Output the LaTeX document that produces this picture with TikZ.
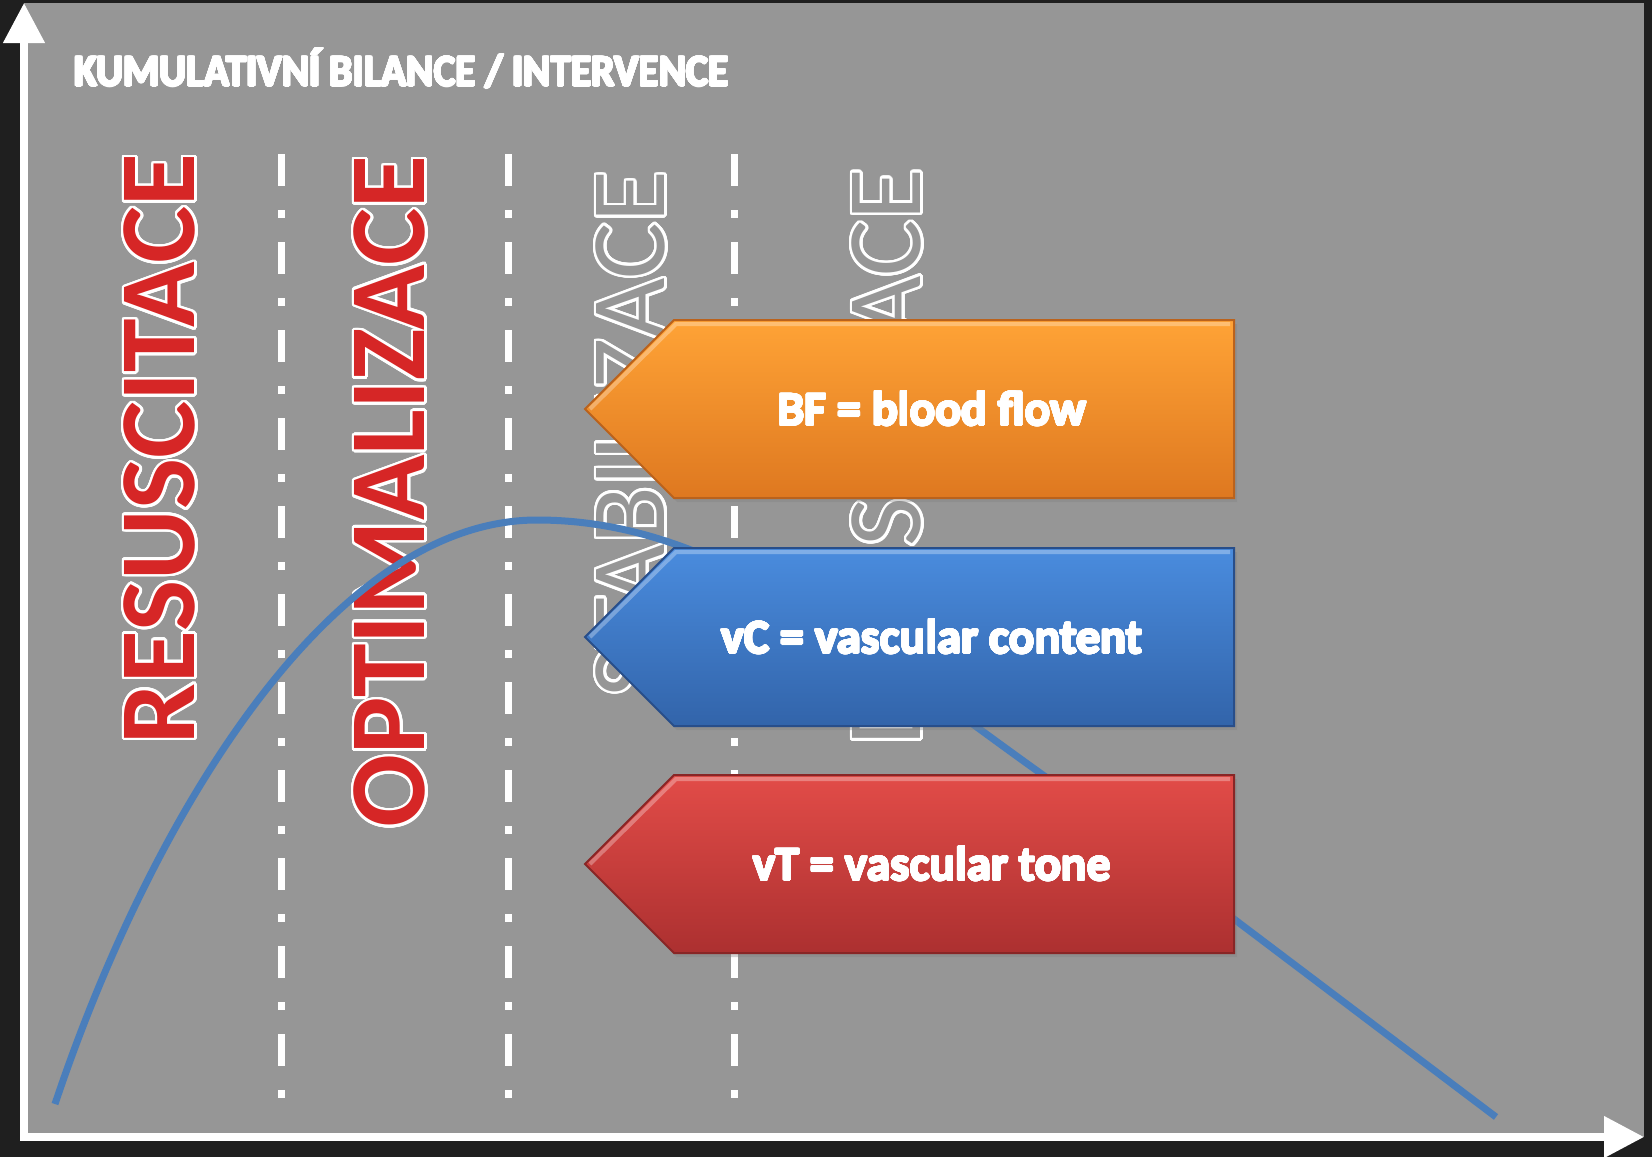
\documentclass[tikz,border=0pt]{standalone}
\usepackage{fontspec}
\setmainfont{Carlito}
\usepackage{contour}
\contournumber{32}
\usetikzlibrary{arrows.meta,shadows}

\definecolor{framegray}{RGB}{31,31,31}
\definecolor{panelgray}{RGB}{150,150,150}
\definecolor{flowblue}{RGB}{74,126,187}
\definecolor{phasered}{RGB}{214,38,38}
\definecolor{toporange}{RGB}{255,163,54}
\definecolor{botorange}{RGB}{222,120,32}
\definecolor{edgeorange}{RGB}{186,98,28}
\definecolor{topblue}{RGB}{74,140,222}
\definecolor{botblue}{RGB}{50,100,170}
\definecolor{edgeblue}{RGB}{40,78,138}
\definecolor{topred}{RGB}{226,76,72}
\definecolor{botred}{RGB}{172,48,48}
\definecolor{edgered}{RGB}{136,38,38}

\begin{document}
\begin{tikzpicture}[x=0.5pt,y=-0.5pt,>={Triangle[width=20pt,length=20pt]}]
  \tikzset{
    every node/.style={inner sep=0pt},
    phase/.style={rotate=90,font=\fontsize{53}{53}\selectfont},
    boldphase/.style={rotate=90,font=\bfseries\fontsize{54}{54}\selectfont},
    divider/.style={white,line width=3.5pt,dash pattern=on 16pt off 12pt on 4pt off 12pt},
    axis/.style={white,line width=3.75pt,line cap=rect,->},
    boxtext/.style={text=white,font=\bfseries\fontsize{24}{28}\selectfont}
  }
  \useasboundingbox (0,0) rectangle (1652,1157);
  \fill[framegray] (0,0) rectangle (1652,1157);
  \fill[panelgray] (24,3) rectangle (1644,1137);

  % phase borders
  \foreach \x in {281,508,734}
    \draw[divider] (\x,154) -- (\x,1098);

  \contourlength{1.3pt}
  \node[boldphase] (resus) at (161,449) {\contour{white}{\textcolor{phasered}{RESUSCITACE}}};
  \node[boldphase] (optim) at (391,492) {\contour{white}{\textcolor{phasered}{OPTIMALIZACE}}};
  \node[phase]     (stab)  at (632,434) {\contour{white}{\textcolor{panelgray}{STABILIZACE}}};
  \node[phase]     (deesk) at (888,457) {\contour{white}{\textcolor{panelgray}{DE-ESKALACE}}};

  \contourlength{0.5pt}
  \node[anchor=base west,text=white,font=\bfseries\fontsize{22.5}{24}\selectfont] (title) at (74,86)
    {\scalebox{0.92}[1]{\contour{white}{KUMULATIVNÍ BILANCE / INTERVENCE}}};

  % bilance
  \draw[flowblue,line width=3.5pt] (55,1104) .. controls (150,820) and (330,520) .. (537,520)
    .. controls (720,520) and (860,645) .. (1050,780) -- (1496,1117);

  \contourlength{0.4pt}
  \foreach \yc/\col/\txt/\name in {409/orange/{BF = blood flow}/bf,
                                   637/blue/{vC = vascular content}/vc,
                                   864/red/{vT = vascular tone}/vt}{
    \path[top color=top\col,bottom color=bot\col,draw=edge\col,line width=1pt,
          drop shadow={opacity=0.35,shadow xshift=1.5pt,shadow yshift=-2pt}]
      (585,\yc) -- (674,\yc-89) -- (1234,\yc-89) -- (1234,\yc+89) -- (674,\yc+89) -- cycle;
    \draw[white,opacity=0.3,line width=2pt] (590,\yc) -- (676,\yc-85) -- (1230,\yc-85);
    \node[boxtext] (\name) at (932,\yc) {\contour{white}{\txt}};
  }

  \coordinate (origin) at (24,1137);
  \coordinate (ytip) at (24,3);
  \coordinate (xtip) at (1644,1137);
  \draw[axis] (origin) -- (ytip);
  \draw[axis] (origin) -- (xtip);
\end{tikzpicture}
\end{document}
